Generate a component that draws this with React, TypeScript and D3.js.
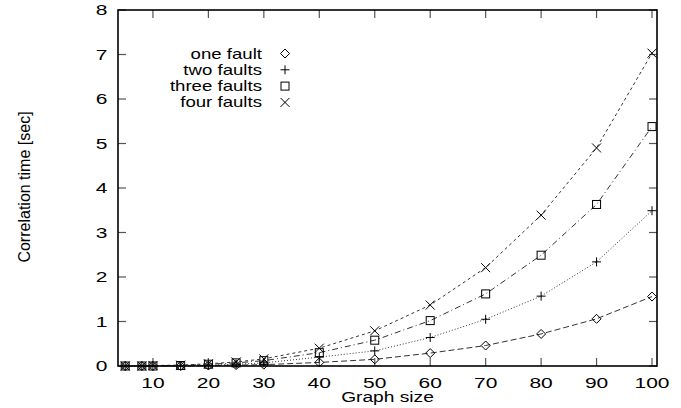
import React from 'react';
import * as d3 from 'd3';

// graph sizes measured
const sizes = [5, 8, 10, 15, 20, 25, 30, 40, 50, 60, 70, 80, 90, 100];

// correlation time [sec] per number of faults
const oneFault = [0, 0, 0, 0, 0.01, 0.02, 0.03, 0.08, 0.15, 0.29, 0.46, 0.72, 1.06, 1.56];
const twoFaults = [0, 0, 0, 0.01, 0.02, 0.04, 0.07, 0.2, 0.34, 0.64, 1.05, 1.57, 2.34, 3.49];
const threeFaults = [0, 0, 0, 0.01, 0.04, 0.07, 0.12, 0.3, 0.58, 1.02, 1.62, 2.49, 3.63, 5.38];
const fourFaults = [0, 0, 0.01, 0.02, 0.05, 0.09, 0.16, 0.4, 0.79, 1.37, 2.21, 3.39, 4.9, 7.03];

const xTicks = [10, 20, 30, 40, 50, 60, 70, 80, 90, 100];
const yTicks = [0, 1, 2, 3, 4, 5, 6, 7, 8];

const seriesNames = ['one fault', 'two faults', 'three faults', 'four faults'];
const seriesValues = [oneFault, twoFaults, threeFaults, fourFaults];
const seriesDash = ['6,3', '1,2', '6,3,1,3', '3,3'];
const seriesMarker = ['diamond', 'plus', 'square', 'cross'];

const W = 681;
const H = 408;
const margin = { left: 118, top: 10, right: 24, bottom: 42 };
const font = 'Liberation Sans, Arial, Helvetica, sans-serif';

// the original's horizontal text is stretched sideways
function WideText({ x, y, size, sx, anchor, children }: { x: number; y: number; size: number; sx: number; anchor: string; children: React.ReactNode }) {
	return (
		<text transform={`translate(${x},${y}) scale(${sx},1)`} fontSize={size} textAnchor={anchor}>{children}</text>
	);
}

function Marker({ kind, x, y }: { kind: string; x: number; y: number }) {
	const s = 4.5;
	if (kind === 'diamond') {
		return <path d={`M${x},${y - s}L${x + s},${y}L${x},${y + s}L${x - s},${y}Z`} fill="none" stroke="#000" strokeWidth={1} />;
	}
	if (kind === 'plus') {
		return <path d={`M${x - s},${y}H${x + s}M${x},${y - s}V${y + s}`} stroke="#000" strokeWidth={1} />;
	}
	if (kind === 'square') {
		return <rect x={x - 4} y={y - 4} width={8} height={8} fill="none" stroke="#000" strokeWidth={1} />;
	}
	return <path d={`M${x - s},${y - s}L${x + s},${y + s}M${x - s},${y + s}L${x + s},${y - s}`} stroke="#000" strokeWidth={1} />;
}

export default function App() {
	const innerW = W - margin.left - margin.right;
	const innerH = H - margin.top - margin.bottom;
	const x = d3.scaleLinear().domain([3.7, 100.9]).range([margin.left, margin.left + innerW]);
	const y = d3.scaleLinear().domain([0, 8]).range([margin.top + innerH, margin.top]);

	const line = d3.line<number>()
		.x((_, i) => x(sizes[i]))
		.y(d => y(d));

	const left = margin.left;
	const right = margin.left + innerW;
	const top = margin.top;
	const bottom = margin.top + innerH;
	const tick = 8;

	return (
		<svg width={W} height={H} style={{ position: 'absolute', left: 0, top: 0 }} fontFamily={font}>
			<rect width={W} height={H} fill="#fff" />

			{/* ticks, mirrored on all four sides */}
			{xTicks.map(t => (
				<g key={'xt' + t}>
					<line x1={x(t)} x2={x(t)} y1={bottom} y2={bottom - tick} stroke="#555" strokeWidth={1.2} />
					<line x1={x(t)} x2={x(t)} y1={top} y2={top + tick} stroke="#555" strokeWidth={1.2} />
					<WideText x={x(t)} y={387.5} size={15} sx={1.4} anchor="middle">{t}</WideText>
				</g>
			))}
			{yTicks.map(t => (
				<g key={'yt' + t}>
					<line x1={left} x2={left + tick} y1={y(t)} y2={y(t)} stroke="#555" strokeWidth={1.2} />
					<line x1={right} x2={right - tick} y1={y(t)} y2={y(t)} stroke="#555" strokeWidth={1.2} />
					<WideText x={107.5} y={y(t) + 5.4} size={15} sx={1.4} anchor="end">{t}</WideText>
				</g>
			))}

			{/* series */}
			{seriesValues.map((vals, si) => (
				<g key={seriesNames[si]}>
					<path d={line(vals) || ''} fill="none" stroke="#333" strokeWidth={1} strokeDasharray={seriesDash[si]} />
					{vals.map((v, i) => (
						<Marker key={i} kind={seriesMarker[si]} x={x(sizes[i])} y={y(v)} />
					))}
				</g>
			))}

			<rect x={left} y={top} width={innerW} height={innerH} fill="none" stroke="#000" strokeWidth={1.6} />

			{/* legend */}
			{seriesNames.map((name, i) => (
				<g key={'lg' + name}>
					<WideText x={262} y={53.5 + i * 16.3 + 5} size={14} sx={1.33} anchor="end">{name}</WideText>
					<Marker kind={seriesMarker[i]} x={285} y={53.5 + i * 16.3} />
				</g>
			))}

			<WideText x={(left + right) / 2} y={402} size={14} sx={1.37} anchor="middle">Graph size</WideText>
			<text transform={`translate(30,187) rotate(-90)`} fontSize={16} textAnchor="middle">Correlation time [sec]</text>
		</svg>
	);
}
